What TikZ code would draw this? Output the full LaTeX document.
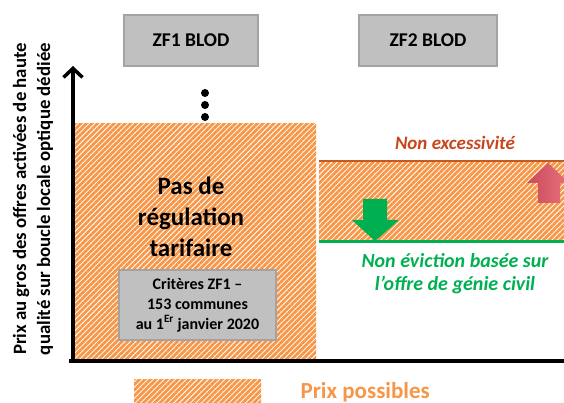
\documentclass[tikz,border=0pt]{standalone}
\usepackage{fontspec}
\setmainfont{Carlito}
\usetikzlibrary{arrows.meta,patterns.meta}
\definecolor{hatchorange}{HTML}{F79646}
\definecolor{boxgrey}{HTML}{C0C0C0}
\definecolor{boxedge}{HTML}{A3A3A3}
\definecolor{redline}{HTML}{C65A1E}
\definecolor{redtext}{HTML}{C8461C}
\definecolor{greenok}{HTML}{00B050}
\definecolor{arrowred1}{HTML}{C94A5C}
\definecolor{arrowred2}{HTML}{E8727C}
\tikzset{
  greybox/.style={draw=boxedge, line width=1.5pt, fill=boxgrey, inner sep=0pt},
  hatched/.style={pattern={Lines[angle=45,distance=3.9pt,line width=2.8pt]}, pattern color=hatchorange},
  dotnode/.style={circle, fill=black, inner sep=0pt, minimum size=8pt},
  axis/.style={line width=4pt, black},
}
\begin{document}
\begin{tikzpicture}[x=1pt,y=-1pt]
\useasboundingbox (0,0) rectangle (564,403);

% hatched regions
\path[hatched] (75,124) rectangle (316,358);
\path[hatched] (319,161) rectangle (564,241);
\path[hatched] (134,379) rectangle (261,403);

% level lines
\draw[redline, line width=2.5pt] (319,161) -- (564,161);
\draw[greenok, line width=3pt] (319,241) -- (564,241);

% axes
\coordinate (O) at (73,361);
\coordinate (ybot) at (73,363);
\coordinate (ytop) at (73,66);
\coordinate (xstart) at (69,361);
\coordinate (xend) at (564,361);
\draw[axis, -{Straight Barb[length=9pt,width=19pt,line width=3.5pt]}] (ybot) -- (ytop);
\draw[line width=3.5pt] (xstart) -- (xend);

% top boxes
\node[greybox, minimum width=134pt, minimum height=51pt, font=\bfseries\fontsize{19.5}{22}\selectfont] (zf1) at (191,40.5) {ZF1 BLOD};
\node[greybox, minimum width=138pt, minimum height=51pt, font=\bfseries\fontsize{19.5}{22}\selectfont] (zf2) at (428,40.5) {ZF2 BLOD};

% dots
\node[dotnode] (d1) at (205,93) {};
\node[dotnode] (d2) at (205,105) {};
\node[dotnode] (d3) at (205,117) {};

% left region text
\node[align=center, font=\bfseries\fontsize{25}{31}\selectfont] (pas) at (191,217) {Pas de\\régulation\\tarifaire};
\node[greybox, minimum width=157pt, minimum height=70pt, align=center, font=\bfseries\fontsize{16}{20}\selectfont] (crit) at (197.5,305) {Critères ZF1 –\\153 communes\\au 1\textsuperscript{Er} janvier 2020};

% right region texts
\node[text=redtext, font=\bfseries\itshape\fontsize{19}{23}\selectfont] (nonexc) at (455,143) {Non excessivité};
\node[text=greenok, align=center, font=\bfseries\itshape\fontsize{20}{23}\selectfont] (nonev) at (455,273.5) {Non éviction basée sur\\l’offre de génie civil};

% arrows
\fill[greenok] (363,199) -- (387,199) -- (387,220) -- (399,220) -- (375,241) -- (352,220) -- (363,220) -- cycle;
\shade[left color=arrowred1, right color=arrowred2] (548,163) -- (569,183) -- (560,183) -- (560,203) -- (538,203) -- (538,183) -- (527,183) -- cycle;

% y label
\node[rotate=90, align=center, font=\bfseries\fontsize{18.8}{24}\selectfont] (ylab) at (33,199) {Prix au gros des offres activées de haute\\qualité sur boucle locale optique dédiée};

% legend
\node[anchor=base west, text=hatchorange, font=\bfseries\fontsize{23}{26}\selectfont] (leg) at (297,398) {Prix possibles};
\end{tikzpicture}
\end{document}
